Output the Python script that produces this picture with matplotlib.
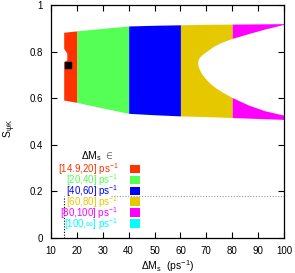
import numpy as np
import matplotlib
matplotlib.use("Agg")
import matplotlib.pyplot as plt
from matplotlib.patches import Rectangle

plt.rcParams['font.family'] = ['Liberation Sans', 'DejaVu Sans']
plt.rcParams['mathtext.fontset'] = 'custom'
plt.rcParams['mathtext.rm'] = 'Liberation Sans'
plt.rcParams['mathtext.it'] = 'Liberation Sans:italic'

# ---- data ----
outer_x = [14.9, 20, 30, 40, 50, 60, 70, 80, 90, 100]
outer_top = [0.883, 0.889, 0.900, 0.910, 0.913, 0.915, 0.917, 0.918, 0.919, 0.920]
outer_bot = [0.592, 0.582, 0.558, 0.535, 0.529, 0.524, 0.521, 0.517, 0.513, 0.509]

hole_x = [66.6, 66.8, 67.2, 68.2, 69.5, 71.4, 73.3, 75.9, 79.8, 86.2, 92.6, 100]
hole_top = [0.752, 0.764, 0.774, 0.786, 0.797, 0.812, 0.826, 0.840, 0.856, 0.877, 0.897, 0.917]
hole_bot = [0.752, 0.739, 0.726, 0.705, 0.686, 0.664, 0.647, 0.628, 0.604, 0.571, 0.546, 0.527]

notch_y = [0.757, 0.764, 0.793, 0.814]
notch_x = [14.9, 16.1, 16.1, 14.9]

marker_x = [16.5]
marker_y = [0.742]

bins = [14.9, 20, 40, 60, 80, 100]
bin_colors = ['#ff3300', '#55ff55', '#0000ff', '#e6c800', '#ff00ff', '#00ffff']
bin_labels = ['[14.9,20] ps$^{-1}$', '[20,40] ps$^{-1}$', '[40,60] ps$^{-1}$',
              '[60,80] ps$^{-1}$', '[80,100] ps$^{-1}$', '[100,\u221e] ps$^{-1}$']

ref_x = 14.9
ref_y = 0.18

xticks = [10, 20, 30, 40, 50, 60, 70, 80, 90, 100]
yticks = [0, 0.2, 0.4, 0.6, 0.8, 1]
yticklabels = ['0', '0.2', '0.4', '0.6', '0.8', '1']

# ---- figure ----
fig = plt.figure(figsize=(2.95, 2.73), dpi=100)
ax = fig.add_axes([51/295, 35/273, 233/295, 233/273])

ox = np.array(outer_x)
ot = np.array(outer_top)
ob = np.array(outer_bot)
for i in range(len(bins) - 1):
    a, b = bins[i], bins[i + 1]
    m = (ox >= a) & (ox <= b)
    ax.fill_between(ox[m], ob[m], ot[m], color=bin_colors[i], lw=0, zorder=1)

ax.fill_between(hole_x, hole_bot, hole_top, color='white', lw=0, zorder=1.5)
ax.fill_betweenx(notch_y, [ref_x - 0.5] * len(notch_y), notch_x,
                 color='white', lw=0, zorder=1.5)
ax.plot(marker_x, marker_y, 's', color='black', ms=4.5, zorder=3)

# reference lines
ax.plot([ref_x, ref_x], [0, ref_y], color='black', ls=(0, (1, 1.5)), lw=0.8, zorder=2)
ax.plot([33.2, 100], [ref_y, ref_y], color='#999999', ls=(0, (1, 1.5)), lw=0.8, zorder=2)

ax.set_xlim(10, 100)
ax.set_ylim(0, 1)
ax.set_xticks(xticks)
ax.set_yticks(yticks)
ax.set_yticklabels(yticklabels)
ax.tick_params(direction='in', top=True, right=True, length=4, width=0.8,
               labelsize=7, pad=6)
for s in ax.spines.values():
    s.set_linewidth(0.9)

ax.text(-0.175, 0.47, r'S$_{\mathrm{\psi K}}$', rotation=90, ha='center', va='center',
        fontsize=7.5, transform=ax.transAxes)
ax.text(0.5, -0.12, r'$\Delta$M$_{\mathrm{s}}$  (ps$^{-1}$)', ha='center', va='center',
        fontsize=7.5, transform=ax.transAxes)

# legend
ax.text(0.2, 0.352, r'$\Delta$M$_{\mathrm{s}}$ $\in$', ha='center', va='center',
        fontsize=7.5, transform=ax.transAxes)
row0 = 0.296
step = 0.047
for i, (lab, col) in enumerate(zip(bin_labels, bin_colors)):
    yc = row0 - i * step
    ax.text(0.288, yc, lab, color=col, ha='right', va='center', fontsize=7,
            transform=ax.transAxes, zorder=4)
    ax.add_patch(Rectangle((0.339, yc - 0.019), 0.043, 0.038, facecolor=col,
                           edgecolor='none', transform=ax.transAxes, zorder=4))

fig.savefig('out.png', dpi=100)
